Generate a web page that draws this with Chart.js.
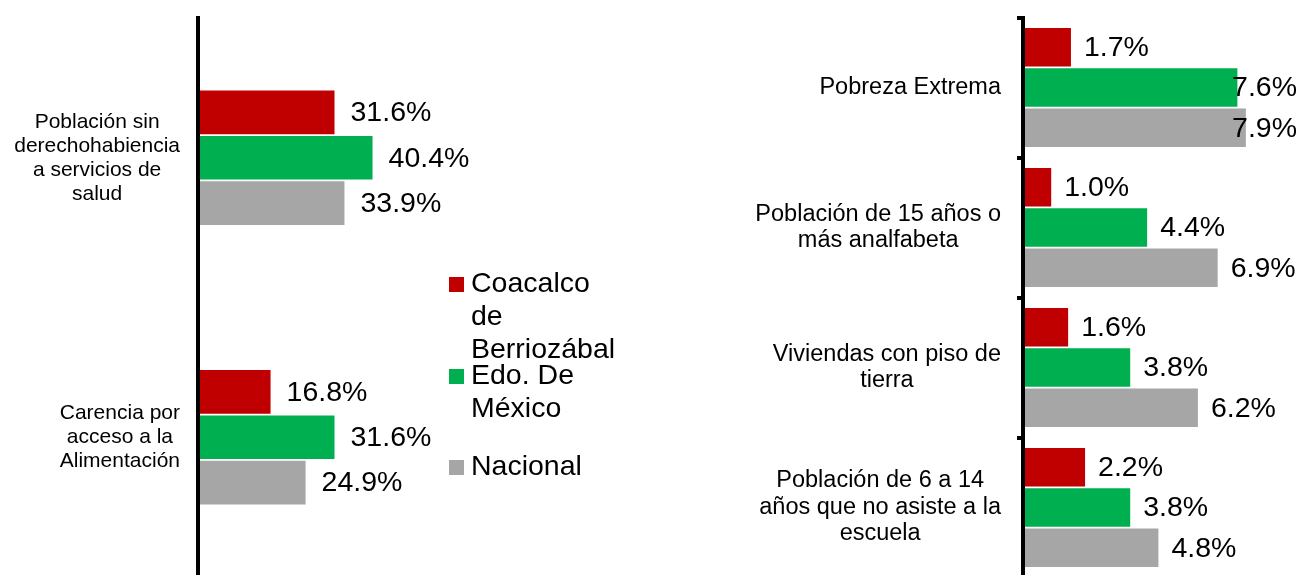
<!DOCTYPE html>
<html>
<head>
<meta charset="utf-8">
<script src="https://cdn.jsdelivr.net/npm/chart.js@4.4.0/dist/chart.umd.min.js"></script>
<style>
  html, body { margin: 0; padding: 0; background: #fff; overflow: hidden; }
  body { width: 1301px; height: 575px; position: relative; font-family: "Liberation Sans", Arial, sans-serif; }
  #leftBox { position: absolute; left: 0; top: 0; width: 480px; height: 600px; }
  #rightBox { position: absolute; left: 740px; top: 0; width: 561px; height: 600px; }
  #legend { position: absolute; left: 449px; top: 0; width: 200px; height: 575px; }
  .legend-item { position: absolute; left: 0; }
  .legend-box { position: absolute; left: 0; width: 15px; height: 15px; }
  .legend-text { position: absolute; left: 22px; top: 0; width: 152px; font-size: 28.5px; line-height: 33px; color: #000; }
</style>
</head>
<body>
<div id="leftBox"><canvas id="leftChart"></canvas></div>
<div id="rightBox"><canvas id="rightChart"></canvas></div>
<div id="legend"></div>
<script>
// Series
const seriesNames = ["Coacalco de Berriozábal", "Edo. De México", "Nacional"];
const seriesColors = ["#C00000", "#00B050", "#A6A6A6"];

// Left chart
const leftCategories = [
  ["Población sin", "derechohabiencia", "a servicios de", "salud"],
  ["Carencia por", "acceso a la", "Alimentación"]
];
const coacalcoLeft = [31.6, 16.8];
const edomexLeft = [40.4, 31.6];
const nacionalLeft = [33.9, 24.9];

// Right chart
const rightCategories = [
  ["Pobreza Extrema"],
  ["Población de 15 años o", "más analfabeta"],
  ["Viviendas con piso de", "tierra"],
  ["Población de 6 a 14", "años que no asiste a la", "escuela"]
];
const coacalcoRight = [1.7, 1.0, 1.6, 2.2];
const edomexRight = [7.6, 4.4, 3.8, 3.8];
const nacionalRight = [7.9, 6.9, 6.2, 4.8];

Chart.defaults.font.family = "'Liberation Sans', Arial, sans-serif";

// etiquetas de valor a la derecha de cada barra
const valueLabels = {
  id: "valueLabels",
  afterDatasetsDraw(chart, args, opts) {
    const ctx = chart.ctx;
    ctx.save();
    ctx.font = opts.font;
    ctx.fillStyle = "#000";
    ctx.textAlign = "left";
    ctx.textBaseline = "middle";
    chart.data.datasets.forEach((ds, i) => {
      chart.getDatasetMeta(i).data.forEach((bar, j) => {
        const text = ds.data[j].toFixed(1) + "%";
        const w = ctx.measureText(text).width;
        const x = Math.min(bar.x + opts.gap, chart.width - opts.edge - w);
        ctx.fillText(text, x, bar.y + 1);
      });
    });
    ctx.restore();
  }
};

// categorías: bloque alineado a la derecha, líneas centradas
const categoryLabels = {
  id: "categoryLabels",
  afterDraw(chart, args, opts) {
    const ctx = chart.ctx;
    const yScale = chart.scales.y;
    ctx.save();
    ctx.font = opts.font;
    ctx.fillStyle = "#000";
    ctx.textAlign = "center";
    ctx.textBaseline = "middle";
    chart.data.labels.forEach((lines, i) => {
      const widest = Math.max(...lines.map(l => ctx.measureText(l).width));
      const cx = chart.chartArea.left - opts.gap - widest / 2;
      const cy = yScale.getPixelForValue(i);
      lines.forEach((line, k) => {
        ctx.fillText(line, cx, cy + (k - (lines.length - 1) / 2) * opts.lineHeight);
      });
    });
    ctx.restore();
  }
};

function makeChart(id, labels, values, cfg) {
  const ctx = document.getElementById(id).getContext("2d");
  return new Chart(ctx, {
    type: "bar",
    data: {
      labels: labels,
      datasets: values.map((data, i) => ({
        label: seriesNames[i],
        data: data,
        backgroundColor: seriesColors[i],
        borderWidth: 0
      }))
    },
    options: {
      indexAxis: "y",
      responsive: true,
      maintainAspectRatio: false,
      animation: false,
      layout: { padding: cfg.padding },
      datasets: {
        bar: { categoryPercentage: cfg.categoryPercentage, barPercentage: 0.96 }
      },
      scales: {
        x: { display: false, min: 0, max: cfg.max },
        y: {
          afterFit: (s) => { s.width = cfg.axisWidth; },
          ticks: { display: false },
          grid: {
            display: cfg.tickMarks,
            drawOnChartArea: false,
            drawTicks: true,
            tickLength: 6,
            color: "#000",
            lineWidth: 4
          },
          border: { display: true, color: "#000", width: 4, z: 1 }
        }
      },
      plugins: {
        legend: { display: false },
        tooltip: { enabled: false },
        valueLabels: { font: "28.5px 'Liberation Sans', Arial, sans-serif", gap: cfg.labelGap, edge: 4 },
        categoryLabels: { font: cfg.catFont, gap: cfg.catGap, lineHeight: cfg.catLineHeight }
      }
    },
    plugins: [valueLabels, categoryLabels]
  });
}

const leftChart = makeChart("leftChart", leftCategories, [coacalcoLeft, edomexLeft, nacionalLeft], {
  max: 50,
  axisWidth: 198,
  padding: { top: 18, bottom: 23, left: 0, right: 66 },
  categoryPercentage: 0.487,
  tickMarks: false,
  labelGap: 16,
  catFont: "21px 'Liberation Sans', Arial, sans-serif",
  catGap: 18,
  catLineHeight: 24
});

const rightChart = makeChart("rightChart", rightCategories, [coacalcoRight, edomexRight, nacionalRight], {
  max: 9.5,
  axisWidth: 283,
  padding: { top: 17.5, bottom: 22.5, left: 0, right: 10 },
  categoryPercentage: 0.862,
  tickMarks: true,
  labelGap: 13,
  catFont: "23.5px 'Liberation Sans', Arial, sans-serif",
  catGap: 22,
  catLineHeight: 26.5
});

// Leyenda en HTML
const legend = document.getElementById("legend");
leftChart.data.datasets.forEach((ds, i) => {
  const baseline = 292 + i * 91.5;
  const item = document.createElement("div");
  item.className = "legend-item";
  item.style.top = (baseline - 26) + "px";
  const box = document.createElement("div");
  box.className = "legend-box";
  box.style.background = ds.backgroundColor;
  box.style.top = (26 - 15) + "px";
  const text = document.createElement("div");
  text.className = "legend-text";
  text.textContent = ds.label;
  item.appendChild(box);
  item.appendChild(text);
  legend.appendChild(item);
});
</script>
</body>
</html>
